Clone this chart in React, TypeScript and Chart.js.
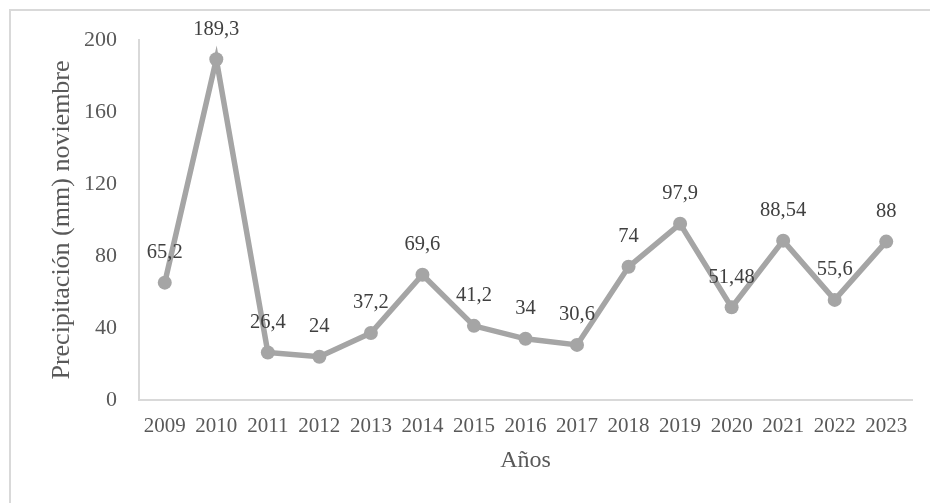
import React, { useEffect, useRef } from "react";
import { Chart, registerables } from "chart.js";

Chart.register(...registerables);

const years: string[] = ["2009", "2010", "2011", "2012", "2013", "2014", "2015", "2016", "2017", "2018", "2019", "2020", "2021", "2022", "2023"];
const precip: number[] = [65.2, 189.3, 26.4, 24, 37.2, 69.6, 41.2, 34, 30.6, 74, 97.9, 51.48, 88.54, 55.6, 88];
const pointLabels: string[] = ["65,2", "189,3", "26,4", "24", "37,2", "69,6", "41,2", "34", "30,6", "74", "97,9", "51,48", "88,54", "55,6", "88"];

const FONT = "'Liberation Serif', 'Times New Roman', serif";

const frame = {
  id: "frame",
  beforeDraw(chart: any) {
    const ctx = chart.ctx;
    ctx.save();
    ctx.strokeStyle = "#d9d9d9";
    ctx.lineWidth = 2;
    ctx.beginPath();
    ctx.moveTo(10, chart.height + 5);
    ctx.lineTo(10, 10);
    ctx.lineTo(chart.width + 5, 10);
    ctx.stroke();
    ctx.restore();
  },
};

const valueLabels = {
  id: "valueLabels",
  afterDatasetsDraw(chart: any) {
    const ctx = chart.ctx;
    const meta = chart.getDatasetMeta(0);
    ctx.save();
    ctx.font = `20.5px ${FONT}`;
    ctx.fillStyle = "#404040";
    ctx.textAlign = "center";
    ctx.textBaseline = "middle";
    meta.data.forEach((pt: any, i: number) => {
      ctx.fillText(pointLabels[i], pt.x, pt.y - 30);
    });
    ctx.restore();
  },
};

export default function App() {
  const ref = useRef<HTMLCanvasElement>(null);
  useEffect(() => {
    if (!ref.current) return;
    const chart = new Chart(ref.current, {
      type: "line",
      data: {
        labels: years,
        datasets: [
          {
            data: precip,
            borderColor: "#a5a5a5",
            backgroundColor: "#a5a5a5",
            borderWidth: 5.5,
            pointRadius: 7,
            pointBackgroundColor: "#a5a5a5",
            pointBorderColor: "#a5a5a5",
            pointBorderWidth: 0,
            tension: 0,
          },
        ],
      },
      options: {
        responsive: false,
        animation: false,
        layout: { padding: { top: 40, right: 18, left: 0, bottom: 0 } },
        plugins: { legend: { display: false }, tooltip: { enabled: false } },
        scales: {
          x: {
            offset: true,
            grid: { display: false, drawTicks: false },
            border: { display: true, color: "#d9d9d9", width: 2 },
            ticks: {
              autoSkip: false,
              maxRotation: 0,
              padding: 14,
              color: "#595959",
              font: { family: FONT, size: 21 },
            },
            title: {
              display: true,
              text: "Años",
              color: "#595959",
              font: { family: FONT, size: 24 },
              padding: { top: 0, bottom: 28 },
            },
            afterFit: (s: any) => {
              s.height = 103;
            },
          },
          y: {
            min: 0,
            max: 200,
            grid: { display: false, drawTicks: false },
            border: { display: true, color: "#d9d9d9", width: 2 },
            ticks: {
              stepSize: 40,
              padding: 22,
              color: "#595959",
              font: { family: FONT, size: 22 },
            },
            title: {
              display: true,
              text: "Precipitación (mm) noviembre",
              color: "#595959",
              font: { family: FONT, size: 26 },
              padding: { top: 47, bottom: 0 },
            },
            afterFit: (s: any) => {
              s.width = 139;
            },
          },
        },
      },
      plugins: [frame, valueLabels],
    });
    return () => chart.destroy();
  }, []);
  return (
    <div style={{ position: "absolute", left: 0, top: 0, width: 930, height: 503, background: "#fff" }}>
      <canvas ref={ref} width={930} height={503} style={{ display: "block" }} />
    </div>
  );
}
